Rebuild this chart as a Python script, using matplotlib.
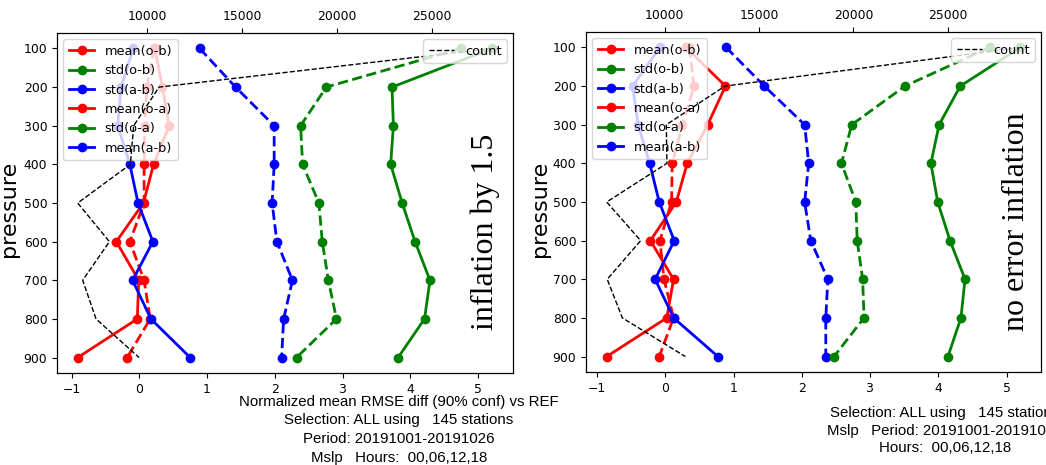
import matplotlib
matplotlib.use("Agg")
import matplotlib.pyplot as plt
from matplotlib.lines import Line2D

plt.rcParams["font.family"] = "DejaVu Sans"
plt.rcParams["font.size"] = 8.9

LEVELS = [100, 200, 300, 400, 500, 600, 700, 800, 900]
LABELS = ["mean(o-b)", "std(o-b)", "std(a-b)", "mean(o-a)", "std(o-a)", "mean(a-b)"]
COLORS = ["red", "green", "blue", "red", "green", "blue"]
STYLES = ["-", "-", "--", "--", "--", "-"]

# left panel: inflation by 1.5
L_MEAN_OB = [0.23, 0.34, 0.44, 0.21, 0.06, -0.34, -0.01, -0.03, -0.91]
L_STD_OB = [5.21, 3.73, 3.75, 3.71, 3.88, 4.07, 4.29, 4.21, 3.82]
L_STD_AB = [0.89, 1.42, 1.99, 1.99, 1.96, 2.03, 2.26, 2.13, 2.10]
L_MEAN_OA = [0.22, 0.11, 0.08, 0.07, 0.07, -0.14, 0.07, 0.16, -0.18]
L_STD_OA = [4.75, 2.76, 2.38, 2.41, 2.65, 2.70, 2.79, 2.91, 2.32]
L_MEAN_AB = [-0.09, -0.27, -0.32, -0.14, -0.02, 0.20, -0.10, 0.17, 0.75]
L_COUNT = [28170, 10616, 9280, 9105, 6332, 8000, 6595, 7295, 9563]

# right panel: no error inflation
R_MEAN_OB = [0.30, 0.88, 0.62, 0.32, 0.16, -0.22, 0.12, 0.02, -0.86]
R_STD_OB = [5.20, 4.32, 4.01, 3.89, 3.99, 4.17, 4.39, 4.33, 4.14]
R_STD_AB = [0.89, 1.45, 2.04, 2.10, 2.04, 2.13, 2.38, 2.35, 2.35]
R_MEAN_OA = [0.35, 0.42, 0.25, 0.10, 0.09, -0.08, -0.02, 0.12, -0.09]
R_STD_OA = [4.75, 3.51, 2.73, 2.58, 2.79, 2.81, 2.89, 2.91, 2.47]
R_MEAN_AB = [-0.08, -0.48, -0.40, -0.23, -0.09, 0.13, -0.15, 0.12, 0.77]
R_COUNT = [28850, 13200, 10090, 10120, 6930, 8730, 6960, 7760, 11100]

L_TEXT = ["Normalized mean RMSE diff (90% conf) vs REF",
          "Selection: ALL using   145 stations",
          "Period: 20191001-20191026",
          "Mslp   Hours:  00,06,12,18"]
R_TEXT = ["Selection: ALL using   145 stations",
          "Mslp   Period: 20191001-20191026",
          "Hours:  00,06,12,18"]

W, H = 1046, 465
fig = plt.figure(figsize=(W / 100, H / 100), dpi=100)

def px(x, y):
    return x / W, 1 - y / H

def panel(rect, series, count, note, note_xy, ylab_x):
    x0, y0, x1, y1 = rect
    ax = fig.add_axes([x0 / W, 1 - y1 / H, (x1 - x0) / W, (y1 - y0) / H])
    for vals, c, ls in zip(series, COLORS, STYLES):
        ax.plot(vals, LEVELS, color=c, ls=ls, lw=2, marker="o", ms=6)
    ax.set_yticks(LEVELS)
    ax.invert_yaxis()
    ax.set_xticks([-1, 0, 1, 2, 3, 4, 5])
    # legend handles are drawn solid in the original
    handles = [Line2D([], [], color=c, lw=2, marker="o", ms=6) for c in COLORS]
    ax.legend(handles, LABELS, loc="upper left", fontsize=9.3)
    ax2 = ax.twiny()
    ax2.plot(count, LEVELS, color="black", ls="--", lw=1, label="count")
    ax2.set_xticks([10000, 15000, 20000, 25000])
    ax2.legend(loc="upper right", fontsize=9.3)
    fig.text(*px(ylab_x, 209), "pressure", rotation=90, fontsize=16, ha="center", va="center")
    fig.text(*px(*note_xy), note, rotation=90, fontsize=23, family="Liberation Serif",
             ha="center", va="center")
    return ax

panel((57, 33, 513, 373), [L_MEAN_OB, L_STD_OB, L_STD_AB, L_MEAN_OA, L_STD_OA, L_MEAN_AB],
      L_COUNT, "inflation by 1.5", (485, 231.5), 9)
panel((586, 32, 1041, 372), [R_MEAN_OB, R_STD_OB, R_STD_AB, R_MEAN_OA, R_STD_OA, R_MEAN_AB],
      R_COUNT, "no error inflation", (1016, 221.5), 540)

for t, y in zip(L_TEXT, [401.7, 420, 439, 457.7]):
    fig.text(*px(399, y), t, ha="center", va="center", fontsize=10.8, family="Liberation Sans")
for t, y in zip(R_TEXT, [413.3, 431, 448.3]):
    fig.text(*px(945, y), t, ha="center", va="center", fontsize=10.8, family="Liberation Sans")

fig.savefig("out.png", dpi=100, facecolor="white")
